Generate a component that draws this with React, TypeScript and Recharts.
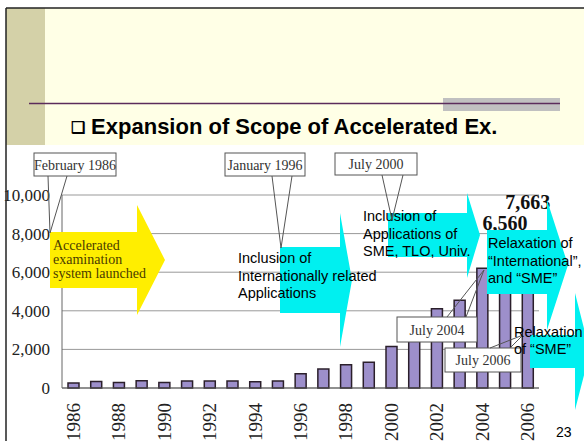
import React from "react"
import { BarChart, Bar, XAxis, YAxis, CartesianGrid, LabelList } from "recharts"

const years = ["1986", "1987", "1988", "1989", "1990", "1991", "1992", "1993", "1994", "1995", "1996",
  "1997", "1998", "1999", "2000", "2001", "2002", "2003", "2004", "2005", "2006"]
const requests = [260, 340, 290, 380, 290, 360, 360, 360, 330, 360, 740,
  980, 1200, 1340, 2150, 3400, 4100, 4550, 6200, 6560, 7663]
const labeledYears = ["2005", "2006"]
const yTicks = [0, 2000, 4000, 6000, 8000, 10000]

const data = years.map((year, i) => ({
  year,
  value: requests[i],
  label: labeledYears.includes(year) ? requests[i].toLocaleString("en-US") : "",
}))

const SERIF = "'Liberation Serif', 'Times New Roman', serif"
const SANS = "'Liberation Sans', Arial, sans-serif"

function YearTick({ x, y, payload }: any) {
  return (
    <text x={x} y={y} dx={-7} transform={`rotate(-90, ${x}, ${y})`} textAnchor="end"
      dominantBaseline="central" fontFamily={SERIF} fontSize={19} fill="#222">
      {payload.value}
    </text>
  )
}

function BigLabel({ x, y, width, value }: any) {
  if (!value) return null
  return (
    <text x={x + width / 2} y={y - 31} textAnchor="middle" fontFamily={SERIF} fontWeight="bold"
      fontSize={20} fill="#111">
      {value}
    </text>
  )
}

// block arrow: body box, then head
function arrowPath(x0: number, y0: number, x1: number, y1: number, ht: number, hb: number, xt: number, ty: number) {
  return `M${x0},${y0} L${x1},${y0} L${x1},${ht} L${xt},${ty} L${x1},${hb} L${x1},${y1} L${x0},${y1} Z`
}

function Callout({ x, y, w, h, text, a, b, tip }: any) {
  return (
    <g>
      <rect x={x} y={y} width={w} height={h} fill="#fff" stroke="#555" strokeWidth={1} />
      <polyline points={`${a[0]},${a[1]} ${tip[0]},${tip[1]} ${b[0]},${b[1]}`} fill="none" stroke="#555" strokeWidth={1} />
      <text x={x + w / 2} y={y + h / 2 + 5} textAnchor="middle" fontFamily={SERIF} fontSize={14} fill="#333">{text}</text>
    </g>
  )
}

function Lines({ x, y, lines, size, family, color, gap }: any) {
  return (
    <text fontFamily={family} fontSize={size} fill={color}>
      {lines.map((l: string, i: number) => (
        <tspan key={i} x={x} y={y + i * gap}>{l}</tspan>
      ))}
    </text>
  )
}

export default function App() {
  return (
    <div style={{ position: "fixed", left: 0, top: 0, width: 584, height: 441, overflow: "hidden", background: "#fff" }}>
      <BarChart width={584} height={441} data={data} margin={{ top: 195, right: 45, left: 0, bottom: 0 }}>
        <CartesianGrid stroke="#999" vertical={false} />
        <XAxis dataKey="year" height={53} interval={1} tickLine={false} axisLine={{ stroke: "#555" }} tick={<YearTick />} />
        <YAxis width={62} domain={[0, 10000]} ticks={yTicks} tickLine={false} tickMargin={6}
          axisLine={{ stroke: "#666" }} tickFormatter={(v: number) => v.toLocaleString("en-US")}
          tick={{ fontFamily: SERIF, fontSize: 17, fill: "#222" }} />
        <YAxis yAxisId="right" orientation="right" width={0} tick={false} tickLine={false} axisLine={{ stroke: "#999" }} />
        <Bar dataKey="value" fill="#9d8fcb" stroke="#2b1f2b" strokeWidth={1.5} barSize={11} isAnimationActive={false}>
          <LabelList dataKey="label" content={<BigLabel />} />
        </Bar>
      </BarChart>

      <svg width={584} height={441} style={{ position: "absolute", left: 0, top: 0, pointerEvents: "none" }}>
        {/* slide header */}
        <rect x={45} y={8} width={539} height={137} fill="#ffffe6" />
        <rect x={6} y={8} width={39} height={137} fill="#d4d1a8" />
        <line x1={6} y1={8} x2={584} y2={8} stroke="#222" strokeWidth={1.5} />
        <line x1={6} y1={8} x2={6} y2={441} stroke="#222" strokeWidth={1.5} />
        <rect x={443} y={98} width={117} height={13} fill="#c0c0c0" />
        <line x1={29} y1={103.5} x2={560} y2={103.5} stroke="#5b2c5b" strokeWidth={1.5} />
        <text x={71} y={134} fontFamily={SANS} fontWeight="bold" fontSize={22} fill="#000">
          <tspan fontSize={16} dy={-1}>❑</tspan><tspan dy={1}> Expansion of Scope of Accelerated Ex.</tspan>
        </text>

        {/* arrows */}
        <path d={arrowPath(50, 232, 137, 288, 205, 315, 165, 260)} fill="#ffee00" />
        <Lines x={53} y={250} lines={["Accelerated", "examination", "system launched"]} size={14} family={SERIF} color="#4a3c00" gap={14} />

        <path d={arrowPath(280, 247, 340, 313, 213, 347, 352, 280)} fill="#00f0f0" />
        <Lines x={238} y={263} lines={["Inclusion of", "Internationally related", "Applications"]} size={14.5} family={SANS} color="#000" gap={17.5} />

        <path d={arrowPath(388, 213, 467, 257, 193, 278, 480, 235)} fill="#00f0f0" />
        <Lines x={363} y={221} lines={["Inclusion of", "Applications of", "SME, TLO, Univ."]} size={14.5} family={SANS} color="#000" gap={17.5} />

        <path d={arrowPath(487, 230, 547, 294, 200, 330, 568, 265)} fill="#00f0f0" />
        <Lines x={488} y={248} lines={["Relaxation of", "\u201cInternational\u201d,", "and \u201cSME\u201d"]} size={14.5} family={SANS} color="#000" gap={17.5} />

        <path d={arrowPath(530, 335, 575, 368, 293, 410, 590, 352)} fill="#00f0f0" />

        {/* callouts */}
        <Callout x={34} y={153} w={82} h={23} text="February 1986" a={[48, 176]} b={[67, 176]} tip={[50, 233]} />
        <Callout x={225} y={153} w={80} h={23} text="January 1996" a={[272, 176]} b={[292, 176]} tip={[281, 248]} />
        <Callout x={335} y={153} w={82} h={22} text="July 2000" a={[382, 175]} b={[403, 175]} tip={[392, 220]} />
        <Callout x={397} y={317} w={80} h={25} text="July 2004" a={[447, 317]} b={[466, 317]} tip={[484, 270]} />
        <Callout x={445} y={348} w={76} h={24} text="July 2006" a={[490, 348]} b={[510, 348]} tip={[523, 335]} />

        <Lines x={514} y={337} lines={["Relaxation", "of \u201cSME\u201d"]} size={14.5} family={SANS} color="#000" gap={17} />

        <text x={556} y={437} fontFamily={SANS} fontSize={14} fill="#000">23</text>
      </svg>
    </div>
  )
}
